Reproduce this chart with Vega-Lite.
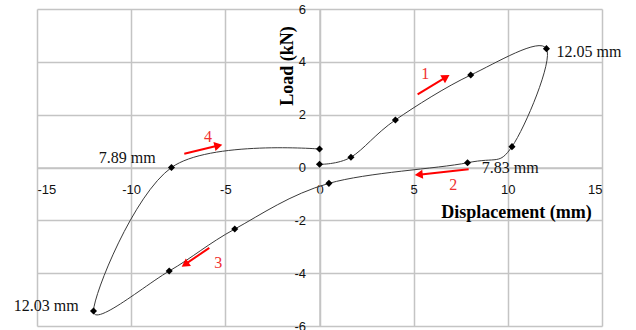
{
  "$schema": "https://vega.github.io/schema/vega-lite/v6.json",
  "width": 565,
  "height": 317,
  "autosize": {"type": "none"},
  "padding": {"left": 37, "top": 9, "right": 34, "bottom": 4},
  "background": "white",
  "config": {
    "view": {"stroke": null},
    "axis": {
      "gridColor": "#c4c4c4",
      "gridWidth": 1.5,
      "domainColor": "#c4c4c4",
      "domainWidth": 1.5,
      "ticks": false,
      "labelFont": "Liberation Sans",
      "labelFontSize": 13,
      "labelColor": "#111111",
      "labelExpr": "replace(datum.label, '\u2212', '-')",
      "titleFont": "Liberation Serif",
      "titleFontSize": 18,
      "titleFontWeight": "bold",
      "titleColor": "#000000"
    }
  },
  "datasets": {
    "curve": [
      {"i": 1, "disp": 0.0, "load": 0.12},
      {"i": 2, "disp": 1.67, "load": 0.39},
      {"i": 3, "disp": 4.03, "load": 1.8},
      {"i": 4, "disp": 8.03, "load": 3.5},
      {"i": 5, "disp": 12.05, "load": 4.5},
      {"i": 6, "disp": 10.22, "load": 0.79},
      {"i": 7, "disp": 7.86, "load": 0.18},
      {"i": 8, "disp": 0.5, "load": -0.6},
      {"i": 9, "disp": -4.5, "load": -2.33},
      {"i": 10, "disp": -7.98, "load": -3.92},
      {"i": 11, "disp": -12.0, "load": -5.43},
      {"i": 12, "disp": -7.86, "load": 0.0},
      {"i": 13, "disp": 0.0, "load": 0.7}
    ],
    "notes": [
      {"label": "12.05 mm", "x": 14.31, "y": 4.39},
      {"label": "7.83 mm", "x": 10.13, "y": -0.03},
      {"label": "7.89 mm", "x": -10.21, "y": 0.36},
      {"label": "12.03 mm", "x": -14.51, "y": -5.25}
    ],
    "arrows": [
      {"n": "1", "x": 5.21, "y": 2.77, "x2": 6.72, "y2": 3.42, "dir": 59, "lx": 5.62, "ly": 3.54},
      {"n": "2", "x": 7.92, "y": -0.07, "x2": 5.27, "y2": -0.27, "dir": 264, "lx": 7.1, "ly": -0.66},
      {"n": "3", "x": -5.85, "y": -3.04, "x2": -7.14, "y2": -3.67, "dir": 236, "lx": -5.37, "ly": -3.6},
      {"n": "4", "x": -7.18, "y": 0.52, "x2": -5.37, "y2": 0.83, "dir": 77, "lx": -5.92, "ly": 1.17}
    ]
  },
  "layer": [
    {
      "data": {"name": "curve"},
      "mark": {"type": "line", "interpolate": "cardinal", "tension": 0, "color": "#3a3a3a", "strokeWidth": 1},
      "encoding": {
        "x": {
          "field": "disp", "type": "quantitative",
          "scale": {"domain": [-15, 15], "nice": false, "zero": false},
          "axis": {
            "values": [-15, -10, -5, 0, 5, 10, 15],
            "offset": -158.5,
            "labelBaseline": "middle",
            "labelPadding": 22,
            "title": "Displacement (mm)",
            "titleX": 479,
            "titleY": 45,
            "titleAlign": "center",
            "titleBaseline": "middle",
            "titleAnchor": null
          }
        },
        "y": {
          "field": "load", "type": "quantitative",
          "scale": {"domain": [-6, 6], "nice": false, "zero": false},
          "axis": {
            "values": [-6, -4, -2, 0, 2, 4, 6],
            "offset": -282.5,
            "labelPadding": 14,
            "title": "Load (kN)",
            "titleX": -32,
            "titleY": 56.5,
            "titleAngle": -90,
            "titleAlign": "center",
            "titleBaseline": "middle",
            "titleAnchor": null
          }
        },
        "order": {"field": "i", "type": "quantitative"}
      }
    },
    {
      "data": {"name": "curve"},
      "mark": {"type": "point", "shape": "diamond", "filled": true, "color": "#000000", "size": 50, "opacity": 1},
      "encoding": {
        "x": {"field": "disp", "type": "quantitative"},
        "y": {"field": "load", "type": "quantitative"}
      }
    },
    {
      "data": {"name": "notes"},
      "mark": {"type": "text", "font": "Liberation Serif", "fontSize": 16, "color": "#111111", "align": "center", "baseline": "middle"},
      "encoding": {
        "x": {"field": "x", "type": "quantitative"},
        "y": {"field": "y", "type": "quantitative"},
        "text": {"field": "label"}
      }
    },
    {
      "data": {"name": "arrows"},
      "mark": {"type": "rule", "color": "#ff0000", "strokeWidth": 2},
      "encoding": {
        "x": {"field": "x", "type": "quantitative"},
        "y": {"field": "y", "type": "quantitative"},
        "x2": {"field": "x2"},
        "y2": {"field": "y2"}
      }
    },
    {
      "data": {"name": "arrows"},
      "mark": {"type": "point", "shape": "triangle-up", "filled": true, "color": "#ff0000", "size": 85, "opacity": 1},
      "encoding": {
        "x": {"field": "x2", "type": "quantitative"},
        "y": {"field": "y2", "type": "quantitative"},
        "angle": {"field": "dir", "type": "quantitative", "scale": {"domain": [0, 360], "range": [0, 360]}}
      }
    },
    {
      "data": {"name": "arrows"},
      "mark": {"type": "text", "font": "Liberation Serif", "fontSize": 16, "color": "#f03030", "align": "center", "baseline": "middle"},
      "encoding": {
        "x": {"field": "lx", "type": "quantitative"},
        "y": {"field": "ly", "type": "quantitative"},
        "text": {"field": "n"}
      }
    }
  ]
}
